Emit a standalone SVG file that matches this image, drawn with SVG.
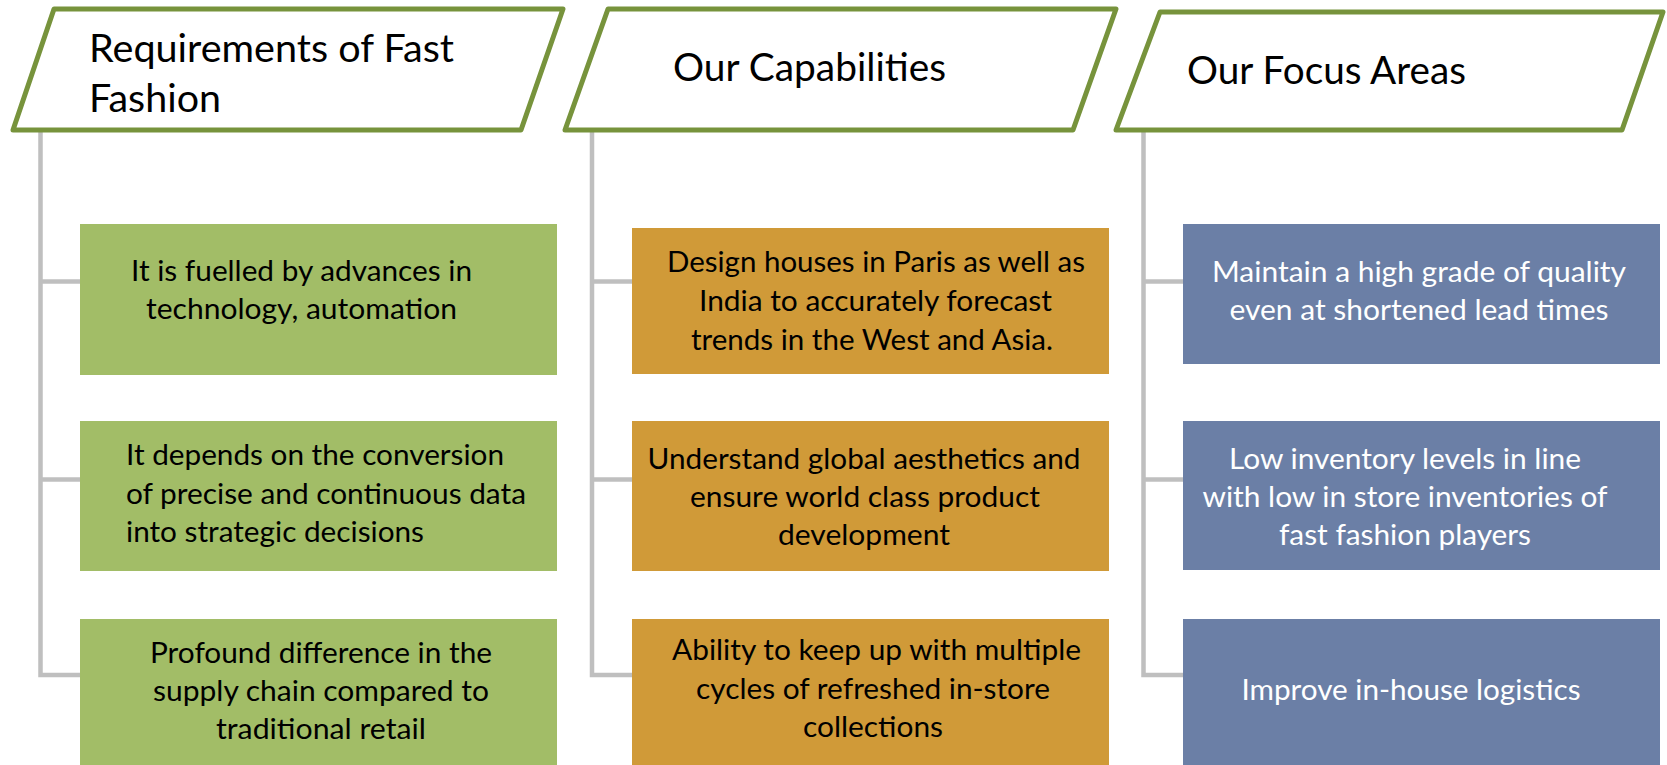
<svg xmlns="http://www.w3.org/2000/svg" width="1667" height="765" viewBox="0 0 1667 765">
  <style>
    .hdr { fill: #ffffff; stroke: #77933C; stroke-width: 5; stroke-linejoin: round; }
    .conn { fill: none; stroke: #BFBFBF; stroke-width: 4.5; }
    .green { fill: #A2BD67; }
    .orange { fill: #D09A38; }
    .blue { fill: #6B7FA6; }
    text { font-family: Lato, "Liberation Sans", sans-serif; fill: #000000; }
    .h { font-size: 38px; }
    .t { font-size: 29px; }
    .m { text-anchor: middle; }
    .w { fill: #FFFFFF; }
  </style>

  <!-- tree connectors -->
  <g id="connectors">
    <path class="conn" d="M40.5,132 V675 H82"/>
    <path class="conn" d="M40.5,281.5 H82"/>
    <path class="conn" d="M40.5,479.5 H82"/>
    <path class="conn" d="M592,132 V675 H634"/>
    <path class="conn" d="M592,281.5 H634"/>
    <path class="conn" d="M592,479.5 H634"/>
    <path class="conn" d="M1143.5,132 V675 H1185"/>
    <path class="conn" d="M1143.5,281.5 H1185"/>
    <path class="conn" d="M1143.5,479.5 H1185"/>
  </g>

  <!-- column headers -->
  <g id="header-requirements">
    <path class="hdr" d="M54,9 L563,9 L521,130 L13,130 Z"/>
    <text class="h" x="89" y="62" textLength="365" lengthAdjust="spacingAndGlyphs">Requirements of Fast</text>
    <text class="h" x="89" y="112" textLength="132" lengthAdjust="spacingAndGlyphs">Fashion</text>
  </g>
  <g id="header-capabilities">
    <path class="hdr" d="M608,9 L1116,9 L1073,130 L565,130 Z"/>
    <text class="h" x="673" y="81" textLength="273" lengthAdjust="spacingAndGlyphs">Our Capabilities</text>
  </g>
  <g id="header-focus">
    <path class="hdr" d="M1160,12 L1663,12 L1622,130 L1116,130 Z"/>
    <text class="h" x="1187" y="84" textLength="279" lengthAdjust="spacingAndGlyphs">Our Focus Areas</text>
  </g>

  <!-- requirements column -->
  <g id="req-1">
    <rect class="green" x="80" y="224" width="477" height="151"/>
    <text class="t" x="131" y="281" textLength="341" lengthAdjust="spacingAndGlyphs">It is fuelled by advances in</text>
    <text class="t" x="146" y="319" textLength="311" lengthAdjust="spacingAndGlyphs">technology, automation</text>
  </g>
  <g id="req-2">
    <rect class="green" x="80" y="421" width="477" height="150"/>
    <text class="t" x="126" y="465" textLength="378" lengthAdjust="spacingAndGlyphs">It depends on the conversion</text>
    <text class="t" x="126" y="503.5" textLength="400" lengthAdjust="spacingAndGlyphs">of precise and continuous data</text>
    <text class="t" x="126" y="542" textLength="298" lengthAdjust="spacingAndGlyphs">into strategic decisions</text>
  </g>
  <g id="req-3">
    <rect class="green" x="80" y="619" width="477" height="146"/>
    <text class="t" x="150" y="663" textLength="342" lengthAdjust="spacingAndGlyphs">Profound difference in the</text>
    <text class="t" x="153" y="701" textLength="336" lengthAdjust="spacingAndGlyphs">supply chain compared to</text>
    <text class="t" x="216" y="739" textLength="210" lengthAdjust="spacingAndGlyphs">traditional retail</text>
  </g>

  <!-- capabilities column -->
  <g id="cap-1">
    <rect class="orange" x="632" y="228" width="477" height="146"/>
    <text class="t m" x="876" y="272" textLength="418" lengthAdjust="spacingAndGlyphs">Design houses in Paris as well as</text>
    <text class="t m" x="875.5" y="310.5" textLength="353" lengthAdjust="spacingAndGlyphs">India to accurately forecast</text>
    <text class="t m" x="872" y="349.5" textLength="362" lengthAdjust="spacingAndGlyphs">trends in the West and Asia.</text>
  </g>
  <g id="cap-2">
    <rect class="orange" x="632" y="421" width="477" height="150"/>
    <text class="t m" x="864" y="468.5" textLength="433" lengthAdjust="spacingAndGlyphs">Understand global aesthetics and</text>
    <text class="t m" x="865" y="506.5" textLength="350" lengthAdjust="spacingAndGlyphs">ensure world class product</text>
    <text class="t m" x="864" y="545" textLength="172" lengthAdjust="spacingAndGlyphs">development</text>
  </g>
  <g id="cap-3">
    <rect class="orange" x="632" y="619" width="477" height="146"/>
    <text class="t m" x="876.5" y="660" textLength="409" lengthAdjust="spacingAndGlyphs">Ability to keep up with multiple</text>
    <text class="t m" x="873" y="698.5" textLength="354" lengthAdjust="spacingAndGlyphs">cycles of refreshed in-store</text>
    <text class="t m" x="873" y="737" textLength="140" lengthAdjust="spacingAndGlyphs">collections</text>
  </g>

  <!-- focus areas column -->
  <g id="focus-1">
    <rect class="blue" x="1183" y="224" width="477" height="140"/>
    <text class="t m w" x="1419" y="281.5" textLength="414" lengthAdjust="spacingAndGlyphs">Maintain a high grade of quality</text>
    <text class="t m w" x="1419" y="320" textLength="379" lengthAdjust="spacingAndGlyphs">even at shortened lead times</text>
  </g>
  <g id="focus-2">
    <rect class="blue" x="1183" y="421" width="477" height="149"/>
    <text class="t m w" x="1405" y="468.5" textLength="352" lengthAdjust="spacingAndGlyphs">Low inventory levels in line</text>
    <text class="t m w" x="1405" y="507" textLength="405" lengthAdjust="spacingAndGlyphs">with low in store inventories of</text>
    <text class="t m w" x="1405" y="545" textLength="252" lengthAdjust="spacingAndGlyphs">fast fashion players</text>
  </g>
  <g id="focus-3">
    <rect class="blue" x="1183" y="619" width="477" height="146"/>
    <text class="t m w" x="1411" y="700" textLength="339" lengthAdjust="spacingAndGlyphs">Improve in-house logistics</text>
  </g>
</svg>
